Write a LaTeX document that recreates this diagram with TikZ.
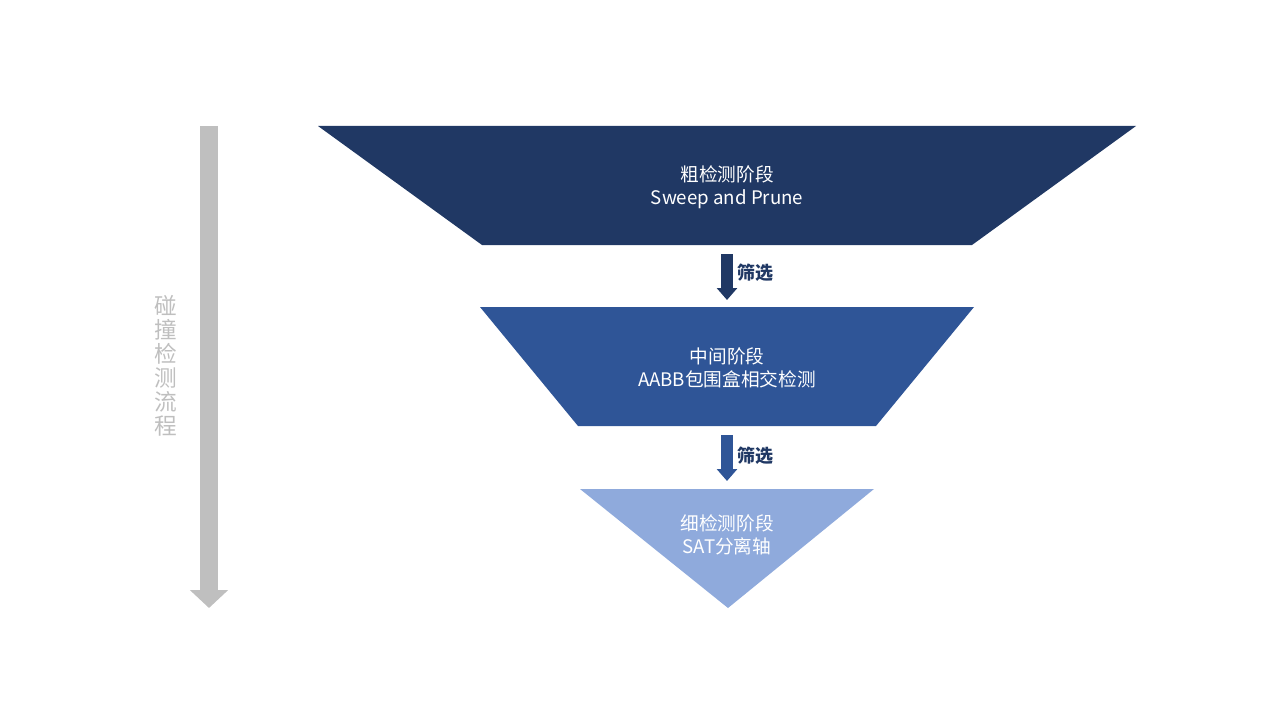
\documentclass[tikz,border=0pt]{standalone}
\usepackage{fontspec}
\setmainfont{Noto Sans CJK SC}
\usepackage{tikz}
\usetikzlibrary{arrows.meta}
\definecolor{navy}{HTML}{203864}
\definecolor{midblue}{HTML}{2F5597}
\definecolor{lightblue}{HTML}{8FAADC}
\definecolor{flowgray}{HTML}{BFBFBF}
\begin{document}
\begin{tikzpicture}[x=0.75pt, y=-0.75pt,
		stagetext/.style={text=white, font=\fontsize{14}{17.3}\selectfont, align=center},
		filterarrow/.style={line width=9pt, -{Triangle[length=9pt, width=15pt]}},
		filterlabel/.style={font=\fontsize{13.5}{16}\selectfont\bfseries, anchor=west, inner sep=0pt}]
		%%%%% START %%%%%
		
		\useasboundingbox (0, 0) rectangle (1280, 720);
		
		% process arrow on the left
		\coordinate (flowtop) at (209, 126);
		\coordinate (flowend) at (209, 608);
		\draw[line width=13.5pt, color=flowgray, -{Triangle[length=13.5pt, width=28pt]}] (flowtop) -- (flowend);
		\node[text=flowgray, font=\fontsize{17}{18}\selectfont, align=center] (flowname) at (166, 366) {碰\\撞\\检\\测\\流\\程};
		
		% stage 1
		\fill[navy] (318, 126) -- (1136, 126) -- (972, 245) -- (482, 245) -- cycle;
		\node[stagetext] (coarse) at (727, 187) {粗检测阶段\\Sweep and Prune};
		
		% stage 2
		\fill[midblue] (480, 307) -- (974, 307) -- (876, 426) -- (578, 426) -- cycle;
		\node[stagetext] (middle) at (727, 368) {中间阶段\\AABB包围盒相交检测};
		
		% stage 3
		\fill[lightblue] (580, 489) -- (874, 489) -- (728, 608) -- cycle;
		\node[stagetext] (fine) at (727, 535) {细检测阶段\\SAT分离轴};
		
		% filters
		\coordinate (fa) at (727, 254);
		\coordinate (fb) at (727, 300);
		\draw[filterarrow, color=navy] (fa) -- (fb);
		\node[filterlabel, text=navy] (filterone) at (737, 273) {筛选};
		
		\coordinate (fc) at (727, 435);
		\coordinate (fd) at (727, 481);
		\draw[filterarrow, color=midblue] (fc) -- (fd);
		\node[filterlabel, text=navy] (filtertwo) at (737, 456) {筛选};
		
		%%%%% END %%%%%
\end{tikzpicture}
\end{document}
